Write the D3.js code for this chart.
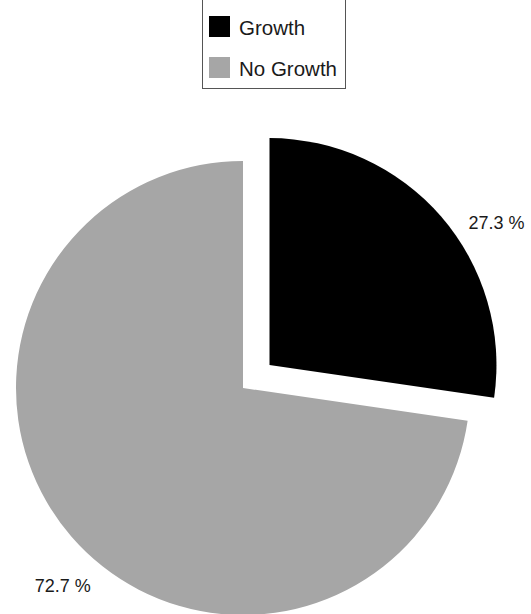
<!DOCTYPE html>
<html>
<head>
<meta charset="utf-8">
<script src="https://cdn.jsdelivr.net/npm/d3@7"></script>
<style>
  body { margin: 0; background: #fff; }
  svg { display: block; font-family: "Liberation Sans", Arial, sans-serif; }
</style>
</head>
<body>
<svg id="chart" width="531" height="614"></svg>
<script>
const categories = ["Growth", "No Growth"];
const values = [27.3, 72.7];
const labels = ["27.3 %", "72.7 %"];
const colors = ["#000000", "#a6a6a6"];

const width = 531, height = 614;
const cx = 243, cy = 388, radius = 227;
const explode = [35, 0];
// labels sit a bit off the slice middle in the original
const labelShift = [8.8, -6.9];
const labelRadius = 268;

const svg = d3.select("#chart");

const pie = d3.pie().sort(null).value(d => d)(values);
const arc = d3.arc().innerRadius(0).outerRadius(radius);

const g = svg.append("g").attr("transform", "translate(" + cx + "," + cy + ")");

const slices = g.selectAll(".slice")
    .data(pie)
    .enter()
    .append("g")
    .attr("class", "slice")
    .attr("transform", (d, i) => {
        let mid = (d.startAngle + d.endAngle) / 2;
        return "translate(" + (Math.sin(mid) * explode[i]) + "," + (-Math.cos(mid) * explode[i]) + ")";
    });

slices.append("path")
    .attr("d", arc)
    .attr("fill", (d, i) => colors[i]);

slices.append("text")
    .attr("x", (d, i) => {
        let a = (d.startAngle + d.endAngle) / 2 + labelShift[i] * Math.PI / 180;
        return Math.sin(a) * labelRadius;
    })
    .attr("y", (d, i) => {
        let a = (d.startAngle + d.endAngle) / 2 + labelShift[i] * Math.PI / 180;
        return -Math.cos(a) * labelRadius;
    })
    .attr("text-anchor", "middle")
    .attr("dominant-baseline", "central")
    .attr("font-size", "18px")
    .attr("fill", "#1a1a1a")
    .text((d, i) => labels[i]);

// Legend (top border runs off the page)
const legend = svg.append("g").attr("class", "legend");
legend.append("rect")
    .attr("x", 202.5)
    .attr("y", -10)
    .attr("width", 143)
    .attr("height", 98.5)
    .attr("fill", "#fff")
    .attr("stroke", "#555")
    .attr("stroke-width", 1);

const items = legend.selectAll(".item")
    .data(categories)
    .enter()
    .append("g")
    .attr("class", "item")
    .attr("transform", (d, i) => "translate(209," + (16 + i * 41) + ")");

items.append("rect")
    .attr("width", 21)
    .attr("height", 21)
    .attr("fill", (d, i) => colors[i]);

items.append("text")
    .attr("x", 30)
    .attr("y", 18.5)
    .attr("font-size", "20.5px")
    .attr("fill", "#1a1a1a")
    .text(d => d);
</script>
</body>
</html>
